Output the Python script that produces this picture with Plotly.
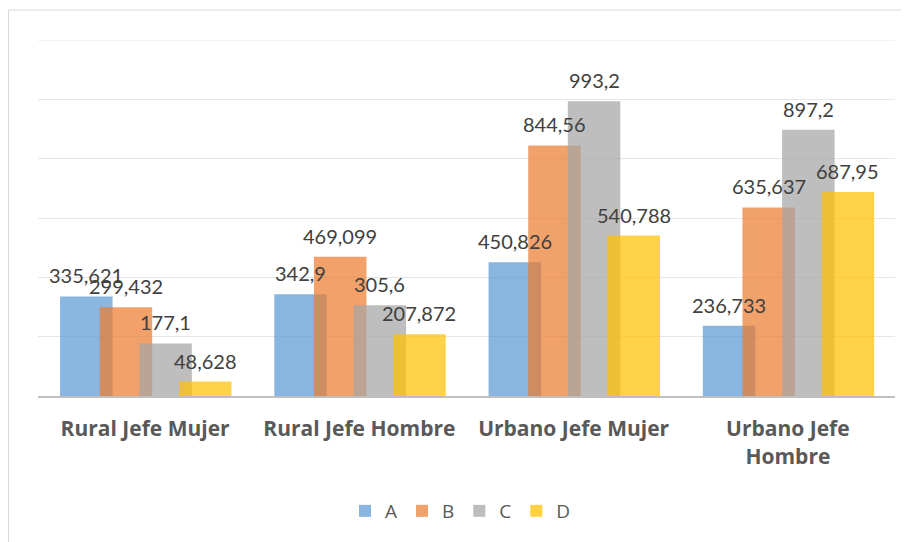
import plotly.graph_objects as go

categories = ["Rural Jefe Mujer", "Rural Jefe Hombre", "Urbano Jefe Mujer", "Urbano Jefe<br>Hombre"]
series_names = ["A", "B", "C", "D"]
values_A = [335.621, 342.9, 450.826, 236.733]
values_B = [299.432, 469.099, 844.56, 635.637]
values_C = [177.1, 305.6, 993.2, 897.2]
values_D = [48.628, 207.872, 540.788, 687.95]

series_values = [values_A, values_B, values_C, values_D]
colors = ["#5B9BD5", "#ED7D31", "#A5A5A5", "#FFC000"]
offsets = [-0.397, -0.212, -0.027, 0.158]
bar_width = 0.245

W, H = 901, 534
ML, MR, MT, MB = 30, 14, 32, 146
cat_px = (W - ML - MR) / len(categories)

def fmt(v):
    return str(v).replace(".", ",")

fig = go.Figure()
annotations = []
for name, vals, col, off in zip(series_names, series_values, colors, offsets):
    fig.add_trace(go.Bar(
        name=name, x=categories, y=vals,
        marker=dict(color=col, line=dict(width=0)), opacity=0.72,
        offset=off, width=bar_width,
    ))
    for j, v in enumerate(vals):
        annotations.append(dict(
            x=j, y=v, xref="x", yref="y", text=fmt(v), showarrow=False,
            xanchor="center", yanchor="bottom",
            xshift=(off + bar_width / 2) * cat_px, yshift=7,
            font=dict(family="Lato, Open Sans, sans-serif", size=20, color="#404040"),
        ))

fig.update_layout(
    width=W, height=H,
    margin=dict(l=ML, r=MR, t=MT, b=MB),
    paper_bgcolor="white", plot_bgcolor="white",
    barmode="overlay",
    font=dict(family="Open Sans, sans-serif", color="#595959"),
    showlegend=True,
    legend=dict(orientation="h", x=0.5 - 6 / (W - ML - MR), xanchor="center", y=-0.323, yanchor="middle",
                font=dict(size=19, color="#595959"), traceorder="normal"),
    xaxis=dict(showline=True, linecolor="#BFBFBF", linewidth=2, ticks="",
               tickfont=dict(size=21, color="#595959", family="Open Sans, sans-serif", weight="bold"),
               ticklabelstandoff=13, showgrid=False),
    yaxis=dict(range=[0, 1200], dtick=200, showticklabels=False, showgrid=True,
               gridcolor="#E6E6E6", gridwidth=1, zeroline=False, showline=False),
    annotations=annotations,
    shapes=[
        dict(type="rect", xref="paper", yref="paper",
             x0=(0.5 - ML) / (W - ML - MR), x1=1.05, y0=-0.5, y1=(H - MB - 2) / (H - MT - MB),
             line=dict(color="#D9D9D9", width=1), fillcolor="rgba(0,0,0,0)", layer="below"),
        dict(type="line", xref="paper", yref="y", x0=0, x1=1, y0=1200, y1=1200,
             line=dict(color="#E6E6E6", width=1), layer="below"),
    ],
)

fig.write_html("out.html")
